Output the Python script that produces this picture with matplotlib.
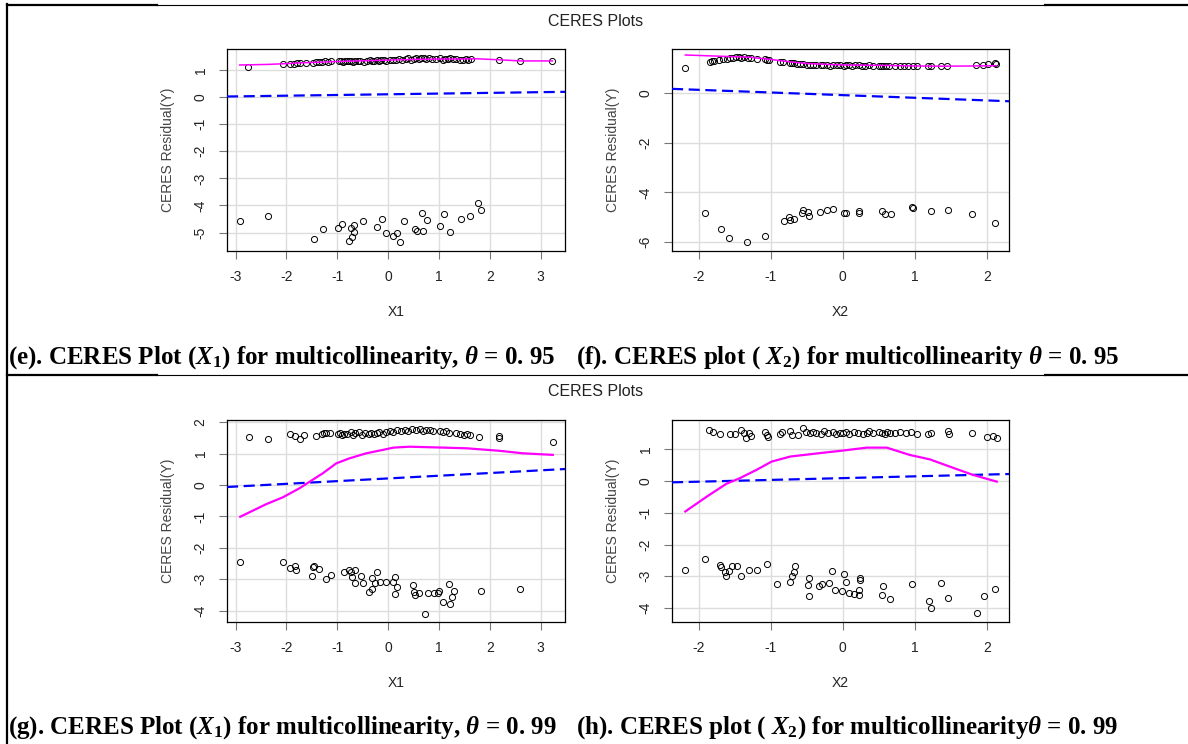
import numpy as np
import matplotlib.pyplot as plt
from matplotlib.lines import Line2D

# --- figure / fonts ---
W, H = 1188, 744
plt.rcParams['font.family'] = ['Liberation Sans', 'DejaVu Sans']
plt.rcParams['axes.unicode_minus'] = False
plt.rcParams['mathtext.fontset'] = 'custom'
plt.rcParams['mathtext.rm'] = 'Liberation Serif:bold'
plt.rcParams['mathtext.it'] = 'Liberation Serif:italic:bold'
plt.rcParams['mathtext.bf'] = 'Liberation Serif:bold'

# --- (e) X1, theta = 0.95 ---
e_x_up = [-2.75, -2.06, -1.93, -1.86, -1.80, -1.73, -1.62, -1.48, -1.42, -1.36,
          -1.30, -1.24, -1.18, -1.13, -0.97, -0.93, -0.89, -0.85, -0.81, -0.77,
          -0.73, -0.70, -0.66, -0.60, -0.55, -0.47, -0.42, -0.36, -0.31, -0.27,
          -0.22, -0.18, -0.14, -0.09, -0.04, 0.03, 0.10, 0.16, 0.22, 0.28,
          0.35, 0.40, 0.45, 0.50, 0.55, 0.60, 0.64, 0.70, 0.74, 0.80,
          0.86, 0.95, 1.02, 1.07, 1.12, 1.17, 1.22, 1.28, 1.34, 1.41,
          1.47, 1.53, 1.57, 1.63, 2.19, 2.59, 3.23]
e_y_up = [1.12, 1.20, 1.22, 1.21, 1.25, 1.27, 1.26, 1.27, 1.29, 1.30,
          1.28, 1.31, 1.30, 1.33, 1.31, 1.33, 1.30, 1.32, 1.34, 1.31,
          1.33, 1.29, 1.32, 1.31, 1.34, 1.30, 1.33, 1.35, 1.32, 1.34,
          1.36, 1.33, 1.35, 1.37, 1.34, 1.36, 1.38, 1.35, 1.39, 1.37,
          1.40, 1.43, 1.38, 1.41, 1.44, 1.40, 1.42, 1.45, 1.41, 1.43,
          1.39, 1.40, 1.42, 1.38, 1.41, 1.40, 1.43, 1.39, 1.41, 1.38,
          1.37, 1.40, 1.36, 1.39, 1.37, 1.34, 1.33]
e_x_lo = [-2.92, -2.37, -1.45, -1.29, -0.99, -0.91, -0.76, -0.72, -0.73, -0.68,
          -0.67, -0.49, -0.21, -0.13, -0.05, 0.09, 0.17, 0.23, 0.31, 0.52,
          0.57, 0.66, 0.69, 0.76, 1.03, 1.10, 1.21, 1.44, 1.62, 1.76, 1.83]
e_y_lo = [-4.57, -4.40, -5.23, -4.87, -4.85, -4.67, -5.32, -5.17, -4.85, -4.73,
          -4.98, -4.57, -4.78, -4.50, -5.02, -5.12, -5.00, -5.36, -4.57, -4.88,
          -4.95, -4.27, -4.94, -4.55, -4.77, -4.30, -4.98, -4.51, -4.40, -3.91, -4.18]
e_smooth_x = [-2.92, -2.4, -2.0, -1.7, -1.4, -1.0, -0.6, -0.2, 0.2, 0.6, 1.0, 1.4, 1.75, 2.2, 2.6, 3.23]
e_smooth_y = [1.18, 1.20, 1.23, 1.26, 1.28, 1.31, 1.33, 1.35, 1.37, 1.39, 1.40, 1.40, 1.41, 1.37, 1.33, 1.33]
e_fit = (0.10, 0.026)  # intercept, slope

# --- (f) X2, theta = 0.95 ---
f_x_up = [-2.19, -1.85, -1.82, -1.79, -1.72, -1.66, -1.61, -1.57, -1.53, -1.49,
          -1.45, -1.41, -1.37, -1.32, -1.27, -1.20, -1.08, -1.05, -1.02, -0.87,
          -0.83, -0.74, -0.71, -0.68, -0.64, -0.59, -0.55, -0.50, -0.46, -0.42,
          -0.37, -0.31, -0.27, -0.22, -0.18, -0.13, -0.08, -0.04, 0.01, 0.05,
          0.09, 0.13, 0.17, 0.22, 0.27, 0.31, 0.36, 0.42, 0.50, 0.53,
          0.56, 0.60, 0.64, 0.72, 0.79, 0.85, 0.91, 0.97, 1.03, 1.19,
          1.22, 1.36, 1.45, 1.85, 1.95, 2.02, 2.11, 2.13]
f_y_up = [0.98, 1.22, 1.25, 1.27, 1.31, 1.33, 1.36, 1.38, 1.40, 1.41,
          1.42, 1.40, 1.41, 1.39, 1.38, 1.36, 1.33, 1.31, 1.32, 1.24,
          1.22, 1.19, 1.18, 1.17, 1.15, 1.14, 1.13, 1.12, 1.11, 1.12,
          1.10, 1.11, 1.09, 1.10, 1.08, 1.10, 1.09, 1.11, 1.08, 1.10,
          1.09, 1.08, 1.10, 1.09, 1.07, 1.08, 1.09, 1.07, 1.08, 1.06,
          1.08, 1.07, 1.06, 1.05, 1.06, 1.05, 1.06, 1.05, 1.06, 1.05,
          1.06, 1.05, 1.06, 1.12, 1.12, 1.15, 1.18, 1.16]
f_x_lo = [-1.92, -1.70, -1.58, -1.33, -1.08, -0.82, -0.75, -0.73, -0.68, -0.57,
          -0.55, -0.48, -0.47, -0.32, -0.22, -0.14, 0.01, 0.04, 0.23, 0.23,
          0.54, 0.58, 0.67, 0.96, 0.97, 1.22, 1.46, 1.79, 2.11]
f_y_lo = [-4.81, -5.47, -5.83, -6.00, -5.76, -5.14, -4.97, -5.12, -5.06, -4.82,
          -4.69, -4.78, -4.93, -4.78, -4.70, -4.66, -4.81, -4.81, -4.73, -4.82,
          -4.73, -4.85, -4.86, -4.57, -4.64, -4.74, -4.70, -4.85, -5.21]
f_smooth_x = [-2.19, -1.9, -1.6, -1.3, -1.0, -0.75, -0.5, -0.2, 0.0, 0.3, 0.6, 1.0, 1.4, 1.8, 2.13]
f_smooth_y = [1.51, 1.48, 1.45, 1.42, 1.33, 1.24, 1.17, 1.13, 1.11, 1.10, 1.09, 1.07, 1.06, 1.07, 1.08]
f_fit = (-0.10, -0.106)

# --- (g) X1, theta = 0.99 ---
g_x_up = [-2.74, -2.37, -1.94, -1.83, -1.74, -1.65, -1.41, -1.31, -1.27, -1.22,
          -1.15, -0.98, -0.94, -0.90, -0.86, -0.80, -0.74, -0.70, -0.66, -0.58,
          -0.52, -0.45, -0.38, -0.33, -0.27, -0.22, -0.17, -0.10, -0.04, 0.03,
          0.10, 0.18, 0.26, 0.34, 0.40, 0.47, 0.55, 0.62, 0.68, 0.75,
          0.82, 0.88, 1.03, 1.08, 1.13, 1.20, 1.33, 1.42, 1.50, 1.55,
          1.62, 1.78, 2.18, 2.19, 3.24]
g_y_up = [1.52, 1.46, 1.61, 1.56, 1.47, 1.60, 1.56, 1.64, 1.66, 1.65,
          1.66, 1.61, 1.66, 1.60, 1.64, 1.62, 1.70, 1.58, 1.65, 1.69,
          1.60, 1.65, 1.62, 1.67, 1.63, 1.66, 1.68, 1.64, 1.70, 1.72,
          1.68, 1.74, 1.71, 1.76, 1.73, 1.77, 1.74, 1.78, 1.72, 1.76,
          1.75, 1.71, 1.72, 1.69, 1.72, 1.67, 1.65, 1.62, 1.60, 1.64,
          1.59, 1.54, 1.56, 1.49, 1.37]
g_x_lo = [-2.92, -2.07, -1.94, -1.84, -1.82, -1.49, -1.48, -1.45, -1.36, -1.22,
          -1.13, -0.86, -0.77, -0.74, -0.72, -0.65, -0.65, -0.53, -0.49, -0.38,
          -0.31, -0.31, -0.26, -0.21, -0.16, -0.05, 0.10, 0.13, 0.13, 0.17,
          0.48, 0.50, 0.52, 0.61, 0.73, 0.79, 0.90, 0.99, 1.01, 1.08,
          1.19, 1.22, 1.26, 1.30, 1.83, 2.60]
g_y_lo = [-2.46, -2.46, -2.63, -2.57, -2.71, -2.88, -2.62, -2.59, -2.68, -3.00,
          -2.85, -2.78, -2.70, -2.76, -2.92, -2.70, -3.12, -2.91, -3.12, -3.39,
          -3.31, -2.96, -3.12, -2.77, -3.10, -3.09, -3.09, -2.94, -3.46, -3.24,
          -3.17, -3.39, -3.49, -3.44, -4.10, -3.44, -3.44, -3.45, -3.37, -3.72,
          -3.15, -3.80, -3.56, -3.37, -3.37, -3.32]
g_smooth_x = [-2.91, -2.40, -2.07, -1.74, -1.54, -1.28, -1.02, -0.76, -0.43, -0.10, 0.10, 0.42, 0.88, 1.54, 2.19, 2.65, 3.24]
g_smooth_y = [-1.01, -0.61, -0.39, -0.10, 0.11, 0.38, 0.69, 0.85, 1.01, 1.12, 1.19, 1.22, 1.20, 1.17, 1.09, 1.01, 0.96]
g_fit = (0.21, 0.086)

# --- (h) X2, theta = 0.99 ---
h_x_up = [-1.86, -1.81, -1.71, -1.57, -1.50, -1.42, -1.38, -1.35, -1.31, -1.27,
          -1.08, -1.06, -1.04, -0.87, -0.85, -0.74, -0.71, -0.62, -0.55, -0.51,
          -0.46, -0.42, -0.37, -0.30, -0.26, -0.20, -0.14, -0.10, -0.04, 0.00,
          0.04, 0.09, 0.15, 0.21, 0.28, 0.33, 0.37, 0.42, 0.50, 0.54,
          0.58, 0.62, 0.66, 0.73, 0.80, 0.88, 0.95, 1.03, 1.19, 1.23,
          1.46, 1.47, 1.79, 2.00, 2.09, 2.14]
h_y_up = [1.61, 1.54, 1.48, 1.47, 1.48, 1.61, 1.50, 1.35, 1.50, 1.42,
          1.54, 1.45, 1.40, 1.48, 1.53, 1.58, 1.46, 1.45, 1.66, 1.53,
          1.50, 1.55, 1.52, 1.49, 1.56, 1.51, 1.54, 1.48, 1.52, 1.50,
          1.55, 1.47, 1.53, 1.50, 1.49, 1.52, 1.58, 1.50, 1.55, 1.51,
          1.48, 1.54, 1.50, 1.52, 1.55, 1.50, 1.53, 1.47, 1.49, 1.51,
          1.56, 1.48, 1.50, 1.40, 1.43, 1.35]
h_x_lo = [-2.19, -1.92, -1.71, -1.70, -1.64, -1.62, -1.58, -1.54, -1.47, -1.42,
          -1.30, -1.20, -1.05, -0.92, -0.73, -0.71, -0.68, -0.67, -0.49, -0.47,
          -0.47, -0.33, -0.29, -0.19, -0.15, -0.11, -0.01, 0.02, 0.04, 0.09,
          0.16, 0.22, 0.23, 0.24, 0.24, 0.54, 0.56, 0.65, 0.96, 1.20,
          1.22, 1.37, 1.46, 1.87, 1.96, 2.12]
h_y_lo = [-2.81, -2.47, -2.65, -2.71, -2.88, -2.98, -2.84, -2.67, -2.69, -3.00,
          -2.81, -2.80, -2.61, -3.23, -3.18, -3.00, -2.87, -2.69, -3.28, -3.04,
          -3.63, -3.30, -3.23, -3.21, -2.83, -3.44, -3.46, -2.93, -3.17, -3.53,
          -3.55, -3.60, -3.43, -3.07, -3.13, -3.60, -3.32, -3.72, -3.23, -3.78,
          -4.01, -3.21, -3.70, -4.17, -3.63, -3.40]
h_smooth_x = [-2.19, -1.89, -1.62, -1.43, -1.20, -0.99, -0.73, -0.27, 0.01, 0.33, 0.61, 0.93, 1.21, 1.49, 1.81, 2.14]
h_smooth_y = [-0.96, -0.49, -0.09, 0.09, 0.35, 0.61, 0.77, 0.89, 0.96, 1.05, 1.05, 0.82, 0.68, 0.45, 0.19, -0.02]
h_fit = (0.09, 0.056)

fig = plt.figure(figsize=(W / 100, H / 100), dpi=100)


def panel(box, xs, ys, sm_x, sm_y, fit, xlim, ylim, xticks, yticks, xlab, sm_lw):
    l, t, r, b = box
    ax = fig.add_axes([l / W, 1 - b / H, (r - l) / W, (b - t) / H])
    ax.set_xlim(xlim)
    ax.set_ylim(ylim)
    ax.set_xticks(xticks)
    ax.set_yticks(yticks)
    ax.grid(True, color='#DDDDDD', lw=1)
    ax.set_axisbelow(True)
    ax.plot(xs, ys, 'o', mfc='none', mec='black', ms=4.4, mew=0.7, zorder=3)
    ax.axline((0, fit[0]), slope=fit[1], color='#0000FF', lw=1.6, ls=(0, (5, 2.5)), zorder=4)
    ax.plot(sm_x, sm_y, color='#FF00FF', lw=sm_lw, zorder=5)
    ax.tick_params(direction='out', length=6, width=0.8, color='#777777',
                   labelsize=10, labelcolor='#222222', pad=8)
    for lab in ax.get_yticklabels():
        lab.set_rotation(90)
        lab.set_va('center')
    for sp in ax.spines.values():
        sp.set_linewidth(0.9)
    ax.set_xlabel(xlab, fontsize=10, color='#222222', va='center')
    ax.xaxis.set_label_coords(0.5, -61 / (b - t))
    ax.set_ylabel('CERES Residual(Y)', fontsize=10, color='#444444', va='center')
    ax.yaxis.set_label_coords(-59 / (r - l), 0.5)
    return ax


panel((227, 49, 565, 251), e_x_up + e_x_lo, e_y_up + e_y_lo, e_smooth_x, e_smooth_y, e_fit,
      (-3.17, 3.48), (-5.68, 1.77), range(-3, 4), range(-5, 2), 'X1', 1.1)
panel((672, 49, 1009, 251), f_x_up + f_x_lo, f_y_up + f_y_lo, f_smooth_x, f_smooth_y, f_fit,
      (-2.375, 2.31), (-6.35, 1.75), range(-2, 3), [-6, -4, -2, 0], 'X2', 1.1)
panel((227, 420, 565, 622), g_x_up + g_x_lo, g_y_up + g_y_lo, g_smooth_x, g_smooth_y, g_fit,
      (-3.17, 3.48), (-4.36, 2.07), range(-3, 4), range(-4, 3), 'X1', 1.6)
panel((672, 420, 1009, 622), h_x_up + h_x_lo, h_y_up + h_y_lo, h_smooth_x, h_smooth_y, h_fit,
      (-2.375, 2.31), (-4.44, 1.92), range(-2, 3), range(-4, 2), 'X2', 1.6)

# titles
for yy in (21, 392):
    fig.text(596 / W, 1 - yy / H, 'CERES Plots', ha='center', va='center', fontsize=11.5, color='#222222')

# captions
cap = dict(fontsize=18, family='Liberation Serif', weight='bold', va='center')
fig.text(8 / W, 1 - 358 / H, r'(e). CERES Plot ($X_1$) for multicollinearity, $\theta$ = 0. 95', **cap)
fig.text(576 / W, 1 - 358 / H, r'(f). CERES plot ( $X_2$) for multicollinearity $\theta$ = 0. 95', **cap)
fig.text(8 / W, 1 - 728 / H, r'(g). CERES Plot ($X_1$) for multicollinearity, $\theta$ = 0. 99', **cap)
fig.text(576 / W, 1 - 728 / H, r'(h). CERES plot ( $X_2$) for multicollinearity$\theta$ = 0. 99', **cap)

# table borders
def hline(y, x0, x1, lw):
    fig.add_artist(Line2D([x0 / W, x1 / W], [1 - y / H, 1 - y / H], color='black', lw=lw,
                          transform=fig.transFigure))

fig.add_artist(Line2D([7 / W, 7 / W], [1 - 4 / H, 0], color='black', lw=1.6, transform=fig.transFigure))
for yy in (5, 375):
    hline(yy, 7, 157, 1.6)
    hline(yy, 157, 1045, 0.8)
    hline(yy, 1045, W, 1.6)

fig.savefig('out.png', dpi=100)
